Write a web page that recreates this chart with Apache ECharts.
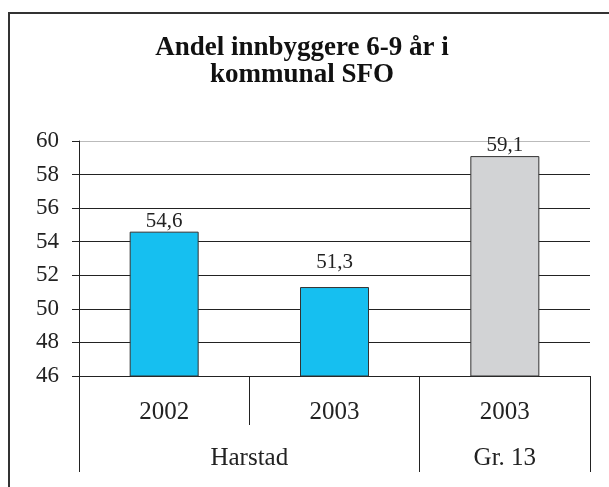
<!DOCTYPE html>
<html>
<head>
<meta charset="utf-8">
<script src="https://cdn.jsdelivr.net/npm/echarts@6/dist/echarts.min.js"></script>
<style>
	html, body { margin: 0; padding: 0; background: #fff; }
	#wrap { position: relative; width: 609px; height: 487px; overflow: hidden; }
	#chart { width: 609px; height: 487px; }
	#frame { position: absolute; left: 8px; top: 12px; width: 700px; height: 600px;
		border-left: 2px solid #333; border-top: 2px solid #333; pointer-events: none; }
</style>
</head>
<body>
<div id="wrap">
	<div id="chart"></div>
	<div id="frame"></div>
</div>
<script>
var titleText = 'Andel innbyggere 6-9 år i\nkommunal SFO';
var years = ['2002', '2003', '2003'];
var groups = ['', '', 'Harstad', '', '', 'Gr. 13', ''];
var values = [54.6, 51.3, 59.1];
var valueLabels = ['54,6', '51,3', '59,1'];
var yMin = 46, yMax = 60, yStep = 2;

var serif = 'Liberation Serif, Times New Roman, serif';
var barColors = ['#16bff0', '#16bff0', '#d2d3d5'];

function fmtNum(v) {
	return String(v).replace('.', ',');
}

var option = {
	backgroundColor: '#fff',
	animation: false,
	title: {
		text: titleText,
		left: 297,
		top: 30,
		textAlign: 'center',
		textStyle: {
			fontFamily: serif,
			fontWeight: 'bold',
			fontSize: 27,
			lineHeight: 27,
			color: '#111'
		}
	},
	grid: {
		left: 79,
		right: 19,
		top: 141,
		bottom: 111
	},
	xAxis: [{
		type: 'category',
		data: years,
		position: 'bottom',
		axisLine: { lineStyle: { color: '#222', width: 1 } },
		axisTick: { show: true, length: 49, lineStyle: { color: '#222' } },
		axisLabel: {
			margin: 24,
			fontFamily: serif,
			fontSize: 25,
			color: '#222'
		}
	}, {
		type: 'category',
		data: groups,
		position: 'bottom',
		boundaryGap: false,
		axisLine: { show: false },
		axisTick: {
			show: true,
			length: 96,
			lineStyle: { color: '#222' },
			interval: function(i) {
				return i === 0 || i === 4 || i === 6;
			}
		},
		axisLabel: {
			margin: 70,
			interval: 0,
			fontFamily: serif,
			fontSize: 25,
			color: '#222'
		}
	}],
	yAxis: [{
		type: 'value',
		min: yMin,
		max: yMax,
		interval: yStep,
		axisLine: { show: true, lineStyle: { color: '#222' } },
		axisTick: { show: true, length: 7, lineStyle: { color: '#222' } },
		axisLabel: {
			margin: 20,
			fontFamily: serif,
			fontSize: 23,
			color: '#222'
		},
		splitLine: {
			show: true,
			lineStyle: {
				color: ['#222', '#222', '#222', '#222', '#222', '#222', '#222', '#bbb'],
				width: 1
			}
		}
	}],
	series: [{
		type: 'bar',
		xAxisIndex: 0,
		barWidth: 69,
		data: values.map(function(v, i) {
			return {
				value: v,
				itemStyle: { color: barColors[i] },
				label: { distance: i === 1 ? 14 : 0 }
			};
		}),
		itemStyle: {
			borderColor: '#333',
			borderWidth: 1
		},
		label: {
			show: true,
			position: 'top',
			fontFamily: serif,
			fontSize: 21,
			color: '#222',
			formatter: function(p) {
				return valueLabels[p.dataIndex] || fmtNum(p.value);
			}
		}
	}]
};

var chart = echarts.init(document.getElementById('chart'));
chart.setOption(option);
</script>
</body>
</html>
